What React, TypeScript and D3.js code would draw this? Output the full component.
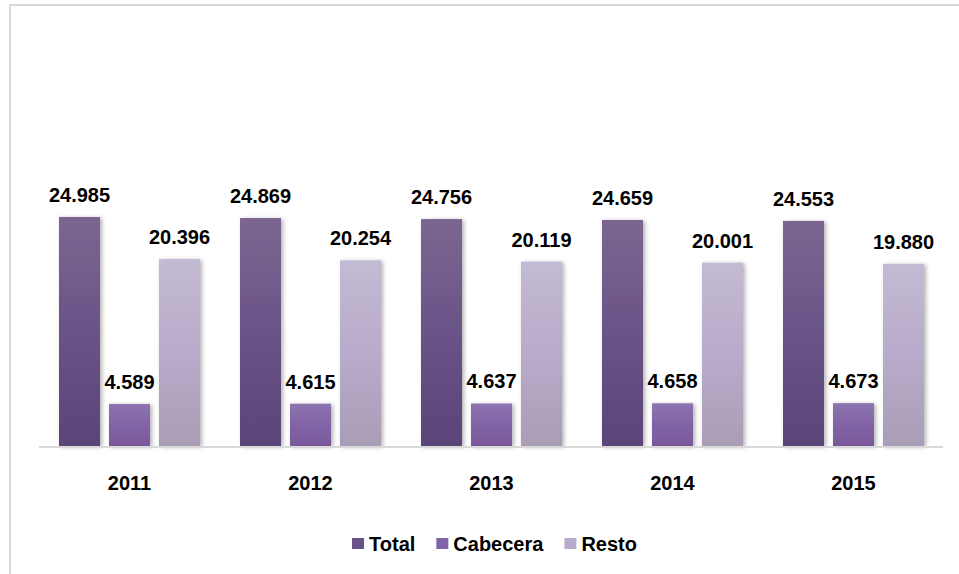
import { useEffect, useRef } from 'react'
import * as d3 from 'd3'

const years = ['2011', '2012', '2013', '2014', '2015']
const seriesNames = ['Total', 'Cabecera', 'Resto']
const totalValues = [24985, 24869, 24756, 24659, 24553]
const cabeceraValues = [4589, 4615, 4637, 4658, 4673]
const restoValues = [20396, 20254, 20119, 20001, 19880]

const WIDTH = 959
const HEIGHT = 574
const FONT = '"Liberation Sans", Arial, Helvetica, sans-serif'

// gradient stops per series (top -> bottom)
const gradients: string[][] = [
  ['#7b6691', '#6a5387', '#5b4478'],
  ['#8d74b0', '#8163a6', '#7a589c'],
  ['#c3bad3', '#b9abcb', '#a99db6'],
]

export default function App() {
  const svgRef = useRef<SVGSVGElement>(null)

  useEffect(() => {
    if (!svgRef.current) return
    const svg = d3.select(svgRef.current)
    svg.selectAll('*').remove()

    const series = [totalValues, cabeceraValues, restoValues]
    const fmt = d3.formatLocale({
      decimal: ',',
      thousands: '.',
      grouping: [3],
      currency: ['', ''],
    }).format(',d')

    const defs = svg.append('defs')
    gradients.forEach((stops, i) => {
      const g = defs
        .append('linearGradient')
        .attr('id', `grad-${i}`)
        .attr('x1', 0)
        .attr('y1', 0)
        .attr('x2', 0)
        .attr('y2', 1)
      stops.forEach((c, j) => {
        g.append('stop')
          .attr('offset', `${(j / (stops.length - 1)) * 100}%`)
          .attr('stop-color', c)
      })
    })
    const shadow = defs
      .append('filter')
      .attr('id', 'bar-shadow')
      .attr('x', '-20%')
      .attr('y', '-5%')
      .attr('width', '150%')
      .attr('height', '115%')
    shadow
      .append('feDropShadow')
      .attr('dx', 2)
      .attr('dy', 1)
      .attr('stdDeviation', 2)
      .attr('flood-color', '#000')
      .attr('flood-opacity', 0.3)

    // chart border (only top and left visible)
    svg
      .append('rect')
      .attr('x', 10)
      .attr('y', 5)
      .attr('width', WIDTH + 20)
      .attr('height', HEIGHT + 20)
      .attr('fill', 'none')
      .attr('stroke', '#d9d9d9')
      .attr('stroke-width', 2)

    const baseline = 446
    const x0 = d3.scaleBand<string>().domain(years).range([39, 944]).padding(0)
    const x1 = d3
      .scaleBand<string>()
      .domain(seriesNames)
      .range([20, x0.bandwidth() - 20])
      .paddingInner(0.18)
      .paddingOuter(0)
    const y = d3.scaleLinear().domain([0, 30000]).range([baseline, 171])

    const groups = svg
      .selectAll('.year')
      .data(years)
      .enter()
      .append('g')
      .attr('class', 'year')
      .attr('transform', (d) => `translate(${x0(d)},0)`)

    seriesNames.forEach((name, si) => {
      groups
        .append('rect')
        .attr('x', x1(name)!)
        .attr('y', (_, i) => y(series[si][i]))
        .attr('width', x1.bandwidth())
        .attr('height', (_, i) => baseline - y(series[si][i]))
        .attr('fill', `url(#grad-${si})`)
        .attr('filter', 'url(#bar-shadow)')

      groups
        .append('text')
        .attr('x', x1(name)! + x1.bandwidth() / 2)
        .attr('y', (_, i) => y(series[si][i]) - 15)
        .attr('text-anchor', 'middle')
        .attr('font-family', FONT)
        .attr('font-size', '20px')
        .attr('font-weight', '700')
        .attr('fill', '#000')
        .text((_, i) => fmt(series[si][i]))
    })

    // x axis line
    svg
      .append('line')
      .attr('x1', 39)
      .attr('x2', 943)
      .attr('y1', baseline + 1)
      .attr('y2', baseline + 1)
      .attr('stroke', '#d9d9d9')
      .attr('stroke-width', 2)

    groups
      .append('text')
      .attr('x', x0.bandwidth() / 2)
      .attr('y', 490)
      .attr('text-anchor', 'middle')
      .attr('font-family', FONT)
      .attr('font-size', '20px')
      .attr('font-weight', '700')
      .attr('fill', '#000')
      .text((d) => d)

    // legend
    const legend = svg.append('g').attr('class', 'legend')
    let cursor = 0
    seriesNames.forEach((name, i) => {
      const item = legend.append('g').attr('transform', `translate(${cursor},0)`)
      item
        .append('rect')
        .attr('x', 0)
        .attr('y', 538)
        .attr('width', 12)
        .attr('height', 11)
        .attr('fill', gradients[i][1])
      const t = item
        .append('text')
        .attr('x', 17)
        .attr('y', 551)
        .attr('font-family', FONT)
        .attr('font-size', '20px')
        .attr('font-weight', '700')
        .attr('fill', '#000')
        .text(name)
      const w = (t.node() as SVGTextElement).getComputedTextLength()
      cursor += 17 + w + 21
    })
    const legendWidth = cursor - 21
    legend.attr('transform', `translate(${494.5 - legendWidth / 2},0)`)
  }, [])

  return (
    <>
      <style>{'body{margin:0;overflow:hidden}'}</style>
      <svg
        ref={svgRef}
        width={WIDTH}
        height={HEIGHT}
        style={{ display: 'block', background: '#fff' }}
      />
    </>
  )
}
